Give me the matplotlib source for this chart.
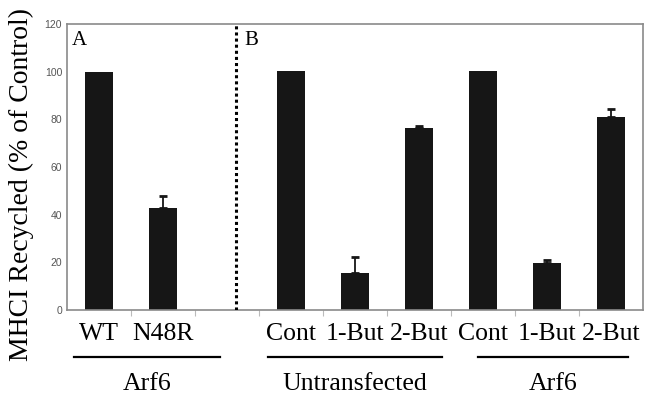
import matplotlib.pyplot as plt
from matplotlib.transforms import blended_transform_factory

# categories: index 2 is the empty slot between panel A and B
labels = ['WT', 'N48R', '', 'Cont', '1-But', '2-But', 'Cont', '1-But', '2-But']
positions = [0, 1, 3, 4, 5, 6, 7, 8]
values = [100, 42.9, 100.3, 15.4, 76.5, 100.3, 19.7, 81.1]
errors = [0, 5.1, 0, 6.7, 0.8, 0, 1.4, 3.1]
groups = ['Arf6', 'Untransfected', 'Arf6']
group_spans = [(-0.39, 1.89), (2.64, 5.36), (5.92, 8.27)]

serif = 'Liberation Serif'

fig = plt.figure(figsize=(6.51, 3.97), dpi=100)
ax = fig.add_axes([0.103, 0.219, 0.885, 0.721])

ax.bar(positions, values, width=0.44, color='#161616', zorder=2)
err_x = [p for p, e in zip(positions, errors) if e > 0]
err_y = [v for v, e in zip(values, errors) if e > 0]
err_v = [e for e in errors if e > 0]
ax.errorbar(err_x, err_y, yerr=[[0] * len(err_v), err_v], fmt='none',
            ecolor='#161616', elinewidth=1.3, capsize=3, capthick=2, zorder=3)

ax.set_xlim(-0.5, 8.5)
ax.set_ylim(0, 120)
ax.set_yticks([0, 20, 40, 60, 80, 100, 120])
ax.tick_params(axis='y', length=0, labelsize=7.5, labelcolor='#555555', pad=3.5)
for t in ax.get_yticklabels():
    t.set_family('Liberation Sans')

# category boundary ticks on the x axis
ax.set_xticks([i + 0.5 for i in range(8)])
ax.set_xticklabels([])
ax.tick_params(axis='x', length=4, color='#bbbbbb', width=0.8)

for s in ax.spines.values():
    s.set_color('#8a8a8a')
    s.set_linewidth(1.2)

ax.axvline(2.14, color='black', linestyle=(0, (1, 1)), linewidth=2.2, zorder=4)

trans = blended_transform_factory(ax.transData, ax.transAxes)
for i, lab in enumerate(labels):
    if lab:
        ax.text(i, -0.045, lab, transform=trans, ha='center', va='top',
                fontsize=18.5, family=serif)

for name, (x0, x1) in zip(groups, group_spans):
    ax.plot([x0, x1], [-0.165, -0.165], transform=trans, color='black',
            linewidth=1.6, clip_on=False)
    ax.text((x0 + x1) / 2, -0.22, name, transform=trans, ha='center', va='top',
            fontsize=18.5, family=serif)

ax.text(0.008, 0.975, 'A', transform=ax.transAxes, ha='left', va='top',
        fontsize=15, family=serif)
ax.text(0.308, 0.975, 'B', transform=ax.transAxes, ha='left', va='top',
        fontsize=15, family=serif)

ax.set_ylabel('MHCI Recycled (% of Control)', fontsize=20, family=serif)
ax.yaxis.set_label_coords(-0.058, 0.44)

fig.savefig('out.png', dpi=100)
